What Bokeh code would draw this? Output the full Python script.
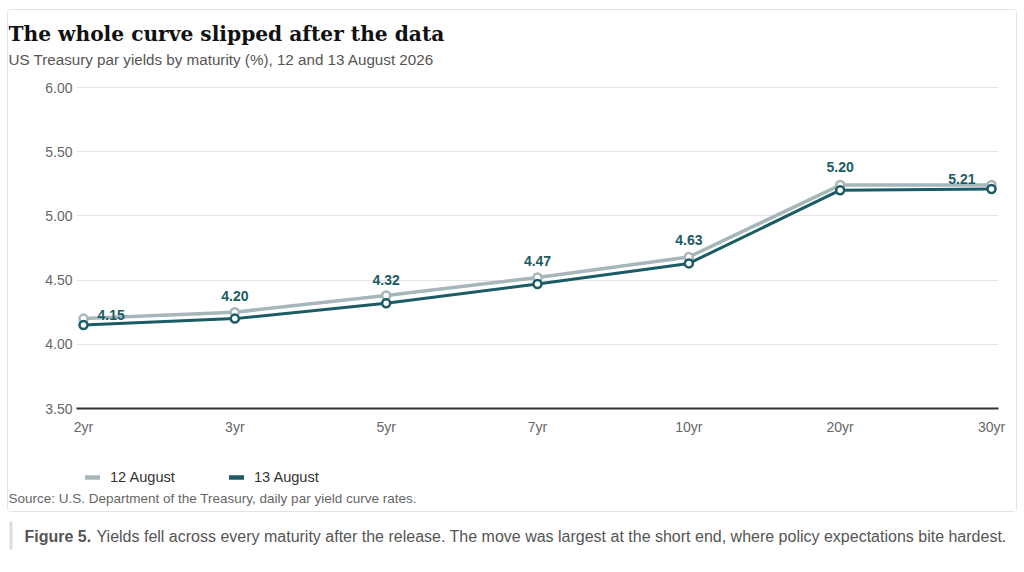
from bokeh.plotting import figure
from bokeh.layouts import column
from bokeh.models import (ColumnDataSource, Range1d, FixedTicker, NumeralTickFormatter,
                          Label, Legend, LegendItem, BoxAnnotation)
from bokeh.core.properties import value
from bokeh.embed import file_html
from bokeh.resources import INLINE

# ---------------- data ----------------
maturities = ["2yr", "3yr", "5yr", "7yr", "10yr", "20yr", "30yr"]
yield_12aug = [4.20, 4.25, 4.38, 4.52, 4.68, 5.24, 5.24]
yield_13aug = [4.15, 4.20, 4.32, 4.47, 4.63, 5.20, 5.21]
y_ticks = [3.5, 4.0, 4.5, 5.0, 5.5, 6.0]
series_names = ["12 August", "13 August"]

title_text = "The whole curve slipped after the data"
subtitle_text = "US Treasury par yields by maturity (%), 12 and 13 August 2026"
source_text = "Source: U.S. Department of the Treasury, daily par yield curve rates."
caption_bold = "Figure 5."
caption_text = ("Yields fell across every maturity after the release. The move was largest "
                "at the short end, where policy expectations bite hardest.")

LIGHT = "#a7b6b9"
DARK = "#1b5c64"
SANS = "Liberation Sans"

# ---------------- layout (page pixels) ----------------
CARD_X, CARD_Y = 8, 10          # inner top-left of the card
CW = 1008                       # card inner width
HEAD_H, CHART_H, FOOT_H, CAP_H = 60, 380, 61, 52
CHART_Y = CARD_Y + HEAD_H       # page y of chart figure top
FOOT_Y = CHART_Y + CHART_H
CAP_Y = FOOT_Y + FOOT_H + 1
FL, FR, FT, FB = 76, 998, 85, 408     # chart frame edges on the page
X0PX, X1PX = 83, 991                  # first / last category positions
YTOP_PX = 87                          # where 6.00 sits


def blank(w, h):
    f = figure(width=w, height=h, x_range=Range1d(0, w), y_range=Range1d(0, h),
               x_axis_type=None, y_axis_type=None, min_border=0,
               output_backend="svg", toolbar_location=None,
               outline_line_color=None, background_fill_color="white",
               border_fill_color="white", frame_align=False)
    f.grid.visible = False
    return f


def add_text(f, ox, oy, h, text, px, py, size, color, font=SANS, style="normal"):
    f.add_layout(Label(x=px - ox, y=h - (py - oy), text=text, text_font=font,
                       text_font_size=size, text_color=color, text_font_style=style,
                       text_baseline="middle", text_align="left"))


# ---------- header ----------
head = blank(CW, HEAD_H)
add_text(head, CARD_X, CARD_Y, HEAD_H, title_text, 8, 33, "20.2px", "#111111",
         font="DejaVu Serif", style="bold")
add_text(head, CARD_X, CARD_Y, HEAD_H, subtitle_text, 8, 59, "15.2px", "#555555")

# ---------- chart ----------
n = len(maturities)
idx = list(range(n))
px_per_x = (X1PX - X0PX) / (n - 1)
x_start = -(X0PX - FL) / px_per_x
x_end = (n - 1) + (FR - X1PX) / px_per_x
px_per_y = (FB - YTOP_PX) / (y_ticks[-1] - y_ticks[0])
y_end = y_ticks[-1] + (YTOP_PX - FT) / px_per_y

p = figure(width=CW, height=CHART_H, x_range=Range1d(x_start, x_end),
           y_range=Range1d(y_ticks[0], y_end),
           output_backend="svg", toolbar_location=None,
           min_border_left=FL - CARD_X, min_border_right=CARD_X + CW - FR,
           min_border_top=FT - CHART_Y, min_border_bottom=CHART_Y + CHART_H - FB,
           outline_line_color=None, background_fill_color="white",
           border_fill_color="white", frame_align=False)

p.xaxis.ticker = FixedTicker(ticks=idx)
p.xaxis.major_label_overrides = {i: m for i, m in enumerate(maturities)}
p.xaxis.axis_line_color = "#333333"
p.xaxis.axis_line_width = 2
p.xaxis.major_tick_line_color = None
p.xaxis.minor_tick_line_color = None
p.xaxis.major_tick_out = 0
p.xaxis.major_tick_in = 0
p.xaxis.major_label_standoff = 10
p.xaxis.major_label_text_font = SANS
p.xaxis.major_label_text_font_size = "14px"
p.xaxis.major_label_text_color = "#666666"

p.yaxis.ticker = FixedTicker(ticks=y_ticks)
p.yaxis.formatter = NumeralTickFormatter(format="0.00")
p.yaxis.axis_line_color = None
p.yaxis.major_tick_line_color = None
p.yaxis.minor_tick_line_color = None
p.yaxis.major_tick_out = 0
p.yaxis.major_tick_in = 0
p.yaxis.major_label_standoff = 4
p.yaxis.major_label_text_font = SANS
p.yaxis.major_label_text_font_size = "14px"
p.yaxis.major_label_text_color = "#666666"

p.xgrid.grid_line_color = None
p.ygrid.ticker = FixedTicker(ticks=y_ticks)
p.ygrid.grid_line_color = "#e6e6e6"
p.ygrid.grid_line_width = 1

aligns = ["left" if i == 0 else "right" if i == n - 1 else "center" for i in idx]
xoffs = [14 if i == 0 else -16 if i == n - 1 else 0 for i in idx]
yoffs = [-10 if i in (0, n - 1) else -23 for i in idx]

src = ColumnDataSource(dict(x=idx, y12=yield_12aug, y13=yield_13aug,
                            label=[f"{v:.2f}" for v in yield_13aug],
                            align=aligns, xo=xoffs, yo=yoffs))

p.line("x", "y12", source=src, line_color=LIGHT, line_width=3.5)
p.scatter("x", "y12", source=src, size=8, fill_color="white",
          line_color=LIGHT, line_width=2.5)
p.line("x", "y13", source=src, line_color=DARK, line_width=3)
p.scatter("x", "y13", source=src, size=8, fill_color="white",
          line_color=DARK, line_width=2.5)
p.text("x", "y13", text="label", source=src, text_align="align",
       x_offset="xo", y_offset="yo", text_baseline="middle",
       text_font=value(SANS), text_font_style="bold",
       text_font_size="14px", text_color=DARK)

# ---------- footer: legend + source ----------
foot = blank(CW, FOOT_H)
# swatch-only renderers, kept outside the visible range
off = [-100, -90]
r12 = foot.line(x=off, y=off, line_color=LIGHT, line_width=4.5, line_cap="round")
r13 = foot.line(x=off, y=off, line_color=DARK, line_width=4.5, line_cap="round")
legend = Legend(items=[LegendItem(label=series_names[0], renderers=[r12]),
                       LegendItem(label=series_names[1], renderers=[r13])],
                location=(85 - CARD_X, FOOT_H - (485 - FOOT_Y)), orientation="horizontal",
                glyph_width=15, glyph_height=16, label_height=16,
                label_standoff=10, spacing=54, padding=0, margin=0,
                border_line_color=None, background_fill_alpha=0,
                label_text_font=SANS, label_text_font_size="14.6px",
                label_text_color="#333333")
foot.add_layout(legend)
add_text(foot, CARD_X, FOOT_Y, FOOT_H, source_text, 8, 498, "13.5px", "#666666")

card = column(head, p, foot, spacing=0, margin=(CARD_Y - 1, 0, 0, CARD_X - 1),
              styles={"border": "1px solid #e3e3e3", "border-radius": "4px",
                      "box-sizing": "content-box"})

# ---------- caption ----------
cap = blank(1016, CAP_H)
cap.add_layout(BoxAnnotation(left=9, right=12, top=CAP_H - (521 - CAP_Y),
                             bottom=CAP_H - (549 - CAP_Y), fill_color="#dddddd",
                             fill_alpha=1, line_color=None))
add_text(cap, 0, CAP_Y, CAP_H, caption_bold, 24, 536, "16px", "#555555", style="bold")
add_text(cap, 0, CAP_Y, CAP_H, caption_text, 96, 536, "16px", "#555555")

root = column(card, cap, spacing=0)
open("out.html", "w").write(file_html(root, INLINE))
